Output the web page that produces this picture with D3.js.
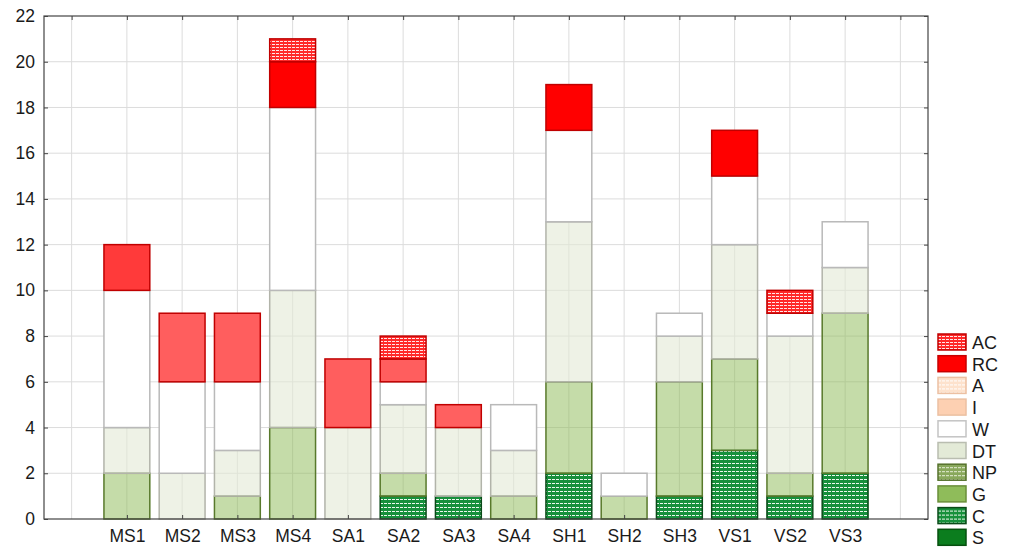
<!DOCTYPE html>
<html>
<head>
<meta charset="utf-8">
<script src="https://cdn.jsdelivr.net/npm/d3@7"></script>
<style>
  html, body { margin: 0; padding: 0; background: #fff; }
  svg { display: block; font-family: "Liberation Sans", Arial, sans-serif; }
</style>
</head>
<body>
<svg id="chart" width="1009" height="547"></svg>
<script>
// ---- data ----
const categories = ["MS1","MS2","MS3","MS4","SA1","SA2","SA3","SA4","SH1","SH2","SH3","VS1","VS2","VS3"];
const S  = [0,0,0,0,0,0,0,0,0,0,0,0,0,0];
const C  = [0,0,0,0,0,1,1,0,2,0,1,3,1,2];
const NP = [0,0,0,0,0,0,0,0,0,0,0,0,0,0];
const G  = [2,0,1,4,0,1,0,1,4,1,5,4,1,7];
const DT = [2,2,2,6,4,3,3,2,7,0,2,5,6,2];
const W  = [6,4,3,8,0,1,0,2,4,1,1,3,1,2];
const I  = [0,0,0,0,0,0,0,0,0,0,0,0,0,0];
const A  = [0,0,0,0,0,0,0,0,0,0,0,0,0,0];
const RC = [2,3,3,2,3,1,1,0,2,0,0,2,0,0];
const AC = [0,0,0,1,0,1,0,0,0,0,0,0,1,0];
const seriesKeys = ["S","C","NP","G","DT","W","I","A","RC","AC"]; // bottom -> top
const legendKeys = ["AC","RC","A","I","W","DT","NP","G","C","S"];  // top -> bottom
const yTicks = [0,2,4,6,8,10,12,14,16,18,20,22];

const seriesData = {S, C, NP, G, DT, W, I, A, RC, AC};
const table = categories.map((c, i) => {
  const row = {cat: c};
  seriesKeys.forEach(k => row[k] = seriesData[k][i]);
  return row;
});

// ---- styles ----
const style = {
  S:  {fill: "#0b7d1e", stroke: "#06500f", opacity: 1},
  C:  {fill: "url(#pC)", stroke: "#0a4a18", opacity: 1},
  NP: {fill: "url(#pNP)", stroke: "#4f6a2a", opacity: 1},
  G:  {fill: "#8fbc5a", stroke: "#58792b", opacity: 0.52},
  DT: {fill: "#e2e9d6", stroke: "#b2b4aa", opacity: 0.6},
  W:  {fill: "#ffffff", stroke: "#b9b9b9", opacity: 1},
  I:  {fill: "#fdd0b2", stroke: "#e7b597", opacity: 1},
  A:  {fill: "url(#pA)", stroke: "#e7b597", opacity: 1},
  RC: {fill: "#ff0000", stroke: "#c00000", opacity: 1},
  AC: {fill: "url(#pAC)", stroke: "#c00000", opacity: 1}
};
// observed shade of RC per bar
const rcShade = {MS1: "#ff3a3a", MS2: "#ff5e5e", MS3: "#ff5e5e", SA1: "#ff5e5e", SA2: "#ff5e5e", SA3: "#ff6060"};

const svg = d3.select("#chart");
const defs = svg.append("defs");
function stripePattern(id, base, line, h, dash) {
  const p = defs.append("pattern").attr("id", id).attr("patternUnits", "userSpaceOnUse")
    .attr("width", 4).attr("height", h);
  p.append("rect").attr("width", 4).attr("height", h).attr("fill", base);
  p.append("rect").attr("x", 0).attr("y", h - 1).attr("width", dash).attr("height", 1).attr("fill", line);
}
stripePattern("pC", "#17903c", "#eef8ef", 4, 3);
stripePattern("pAC", "#ff2a2a", "#ffe8e8", 3, 3);
stripePattern("pNP", "#89a85c", "#e7eed8", 4, 3);
stripePattern("pA", "#fde2cd", "#ffffff", 4, 3);

const pLeft = 44, pRight = 928, pTop = 16, pBottom = 519;
const x = d3.scaleLinear().domain([-1.5, 14.5]).range([pLeft, pRight]);
const y = d3.scaleLinear().domain([0, 22]).range([pBottom, pTop]);
const barW = x(0.83) - x(0);

// grid
const grid = svg.append("g");
grid.selectAll("line.h").data(yTicks.filter(t => t > 0 && t < 22)).join("line")
  .attr("class", "h")
  .attr("x1", pLeft).attr("x2", pRight).attr("y1", d => y(d)).attr("y2", d => y(d))
  .attr("stroke", "#dcdcdc").attr("stroke-width", 1);
grid.selectAll("line.v").data(d3.range(-1, 15)).join("line")
  .attr("class", "v")
  .attr("x1", d => x(d)).attr("x2", d => x(d)).attr("y1", pTop).attr("y2", pBottom)
  .attr("stroke", "#dcdcdc").attr("stroke-width", 1);

// bars
const stacked = d3.stack().keys(seriesKeys)(table);
const barsG = svg.append("g");
stacked.forEach(layer => {
  const k = layer.key;
  barsG.append("g").selectAll("rect")
    .data(layer.filter(d => d[1] - d[0] > 0))
    .join("rect")
    .attr("x", d => x(categories.indexOf(d.data.cat)) - barW / 2)
    .attr("width", barW)
    .attr("y", d => y(d[1]))
    .attr("height", d => y(d[0]) - y(d[1]))
    .attr("fill", d => (k === "RC" && rcShade[d.data.cat]) ? rcShade[d.data.cat] : style[k].fill)
    .attr("fill-opacity", style[k].opacity)
    .attr("stroke", style[k].stroke)
    .attr("stroke-width", 1.5);
});

// frame
svg.append("rect").attr("x", pLeft).attr("y", pTop).attr("width", pRight - pLeft).attr("height", pBottom - pTop)
  .attr("fill", "none").attr("stroke", "#444").attr("stroke-width", 1.2);

// axes
const xAxis = d3.axisBottom(x).tickValues(d3.range(0, 14)).tickFormat(i => categories[i])
  .tickSize(-4).tickPadding(11);
const gx = svg.append("g").attr("transform", `translate(0,${pBottom})`).call(xAxis);
gx.select(".domain").remove();
gx.selectAll("line").attr("stroke", "#444");
gx.selectAll("text").attr("font-size", 17.5).attr("fill", "#1a1a1a").attr("font-family", "Liberation Sans, Arial, sans-serif");

const gxTop = svg.append("g").attr("transform", `translate(0,${pTop})`)
  .call(d3.axisTop(x).tickValues(d3.range(-1, 15)).tickFormat("").tickSize(-4));
gxTop.select(".domain").remove();
gxTop.selectAll("line").attr("stroke", "#444");

const yAxis = d3.axisLeft(y).tickValues(yTicks).tickSize(-4).tickPadding(9);
const gy = svg.append("g").attr("transform", `translate(${pLeft},0)`).call(yAxis);
gy.select(".domain").remove();
gy.selectAll("line").attr("stroke", "#444");
gy.selectAll("text").attr("font-size", 17.5).attr("fill", "#1a1a1a").attr("font-family", "Liberation Sans, Arial, sans-serif");

const gyR = svg.append("g").attr("transform", `translate(${pRight},0)`)
  .call(d3.axisRight(y).tickValues(yTicks).tickFormat("").tickSize(-4));
gyR.select(".domain").remove();
gyR.selectAll("line").attr("stroke", "#444");

// legend
const legendStyle = {
  AC: {fill: "url(#pAC)", stroke: "#c00000"},
  RC: {fill: "#ff0000", stroke: "#c80000"},
  A:  {fill: "url(#pA)", stroke: "#ecc0a2"},
  I:  {fill: "#fdd0b2", stroke: "#ecc0a2"},
  W:  {fill: "#ffffff", stroke: "#c4c4c4"},
  DT: {fill: "#e3ead7", stroke: "#b9bdb0"},
  NP: {fill: "url(#pNP)", stroke: "#55722c"},
  G:  {fill: "#8fbc5a", stroke: "#6a8f3a"},
  C:  {fill: "url(#pC)", stroke: "#0a4a18"},
  S:  {fill: "#0b7d1e", stroke: "#06500f"}
};
const lg = svg.append("g").attr("transform", "translate(938,334)");
const items = lg.selectAll("g").data(legendKeys).join("g")
  .attr("transform", (d, i) => `translate(0,${i * 21.7})`);
items.append("rect").attr("x", 0).attr("y", 0).attr("width", 28).attr("height", 16)
  .attr("fill", d => legendStyle[d].fill).attr("stroke", d => legendStyle[d].stroke).attr("stroke-width", 1.5);
items.append("text").attr("x", 34).attr("y", 15).text(d => d)
  .attr("font-size", 18).attr("fill", "#1a1a1a");
</script>
</body>
</html>
